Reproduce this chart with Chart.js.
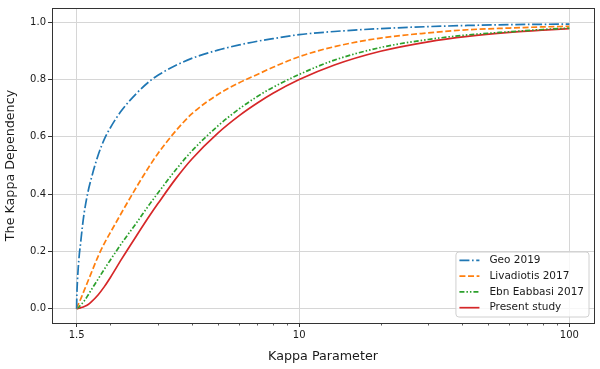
<!DOCTYPE html>
<html>
<head>
<meta charset="utf-8">
<script src="https://cdn.jsdelivr.net/npm/chart.js@4.4.1/dist/chart.umd.min.js"></script>
<style>
  html, body { margin: 0; padding: 0; background: #ffffff; }
</style>
</head>
<body>
<canvas id="grafico" width="600" height="369"></canvas>
<script>
// Valores de kappa (eixo x, escala log)
const kappa = [1.5, 1.502, 1.505, 1.51, 1.52, 1.535, 1.55, 1.575, 1.6, 1.65, 1.7, 1.8, 1.9, 2.0,
  2.2, 2.5, 2.8, 3.0, 3.5, 4, 5, 6, 7, 8, 10, 13.5, 20, 30, 42, 60, 80, 100];

// Curvas
const geo2019 = [0, 0.04, 0.065, 0.095, 0.14, 0.19, 0.225, 0.285, 0.335, 0.405, 0.455, 0.535, 0.592, 0.632,
  0.692, 0.752, 0.795, 0.815, 0.850, 0.874, 0.903, 0.921, 0.934, 0.943, 0.957, 0.968, 0.978, 0.985, 0.989, 0.992, 0.993, 0.994];
const livadiotis2017 = [0, 0.002, 0.005, 0.008, 0.014, 0.023, 0.032, 0.048, 0.064, 0.095, 0.125, 0.182, 0.228, 0.266,
  0.335, 0.425, 0.500, 0.542, 0.622, 0.680, 0.748, 0.789, 0.818, 0.843, 0.880, 0.915, 0.945, 0.963, 0.974, 0.980, 0.984, 0.986];
const ebnEabbasi2017 = [0, 0.0005, 0.001, 0.002, 0.004, 0.007, 0.012, 0.019, 0.027, 0.046, 0.066, 0.103, 0.138, 0.170,
  0.228, 0.300, 0.366, 0.404, 0.486, 0.550, 0.638, 0.698, 0.741, 0.773, 0.818, 0.868, 0.912, 0.940, 0.956, 0.967, 0.975, 0.980];
const presentStudy = [0, 0, 0.0001, 0.0003, 0.0008, 0.0017, 0.0026, 0.0048, 0.0075, 0.014, 0.024, 0.048, 0.077, 0.109,
  0.173, 0.255, 0.326, 0.367, 0.455, 0.522, 0.613, 0.674, 0.718, 0.752, 0.800, 0.851, 0.899, 0.932, 0.951, 0.965, 0.973, 0.978];

// Ticks
const xMajorTicks = [1.5, 10, 100];
const xMinorTicks = [2, 3, 4, 5, 6, 7, 8, 9, 20, 30, 40, 50, 60, 70, 80, 90];
const yTicks = [0, 0.2, 0.4, 0.6, 0.8, 1.0];

// Legenda e estilos
const rotulos = ["Geo 2019", "Livadiotis 2017", "Ebn Eabbasi 2017", "Present study"];
const cores = ["#1f77b4", "#ff7f0e", "#2ca02c", "#d62728"];
const tracos = [[10, 2.6, 1.6, 2.6], [6, 2.6], [5, 2, 1.5, 2, 1.5, 2], []];
const series = [geo2019, livadiotis2017, ebnEabbasi2017, presentStudy];

const fonte = "DejaVu Sans";
const corGrade = "#d6d6d6";
const corEixo = "#333333";

/* Moldura, ticks menores e legenda no canto inferior direito */
const pluginExtras = {
    id: "extras",
    afterDraw(chart) {
        const ctx = chart.ctx;
        const ca = chart.chartArea;
        const xs = chart.scales.x;
        ctx.save();

        // ticks menores do eixo x
        ctx.strokeStyle = corEixo;
        ctx.lineWidth = 0.8;
        xMinorTicks.forEach((v) => {
            const px = Math.round(xs.getPixelForValue(v)) + 0.5;
            ctx.beginPath();
            ctx.moveTo(px, ca.bottom);
            ctx.lineTo(px, ca.bottom + 2.5);
            ctx.stroke();
        });

        // moldura
        ctx.lineWidth = 1;
        ctx.strokeRect(Math.round(ca.left) + 0.5, Math.round(ca.top) + 0.5,
            Math.round(ca.right - ca.left), Math.round(ca.bottom - ca.top));

        // legenda
        ctx.font = "10.5px '" + fonte + "'";
        const larguraTexto = Math.max(...rotulos.map((r) => ctx.measureText(r).width));
        const alturaLinha = 15.8;
        const largura = 3.5 + 20 + 10 + larguraTexto + 5;
        const altura = 65;
        const direita = ca.right - 5;
        const baixo = ca.bottom - 6;
        const esq = direita - largura;
        const topo = baixo - altura;

        ctx.beginPath();
        ctx.roundRect(esq, topo, largura, altura, 3);
        ctx.fillStyle = "rgba(255,255,255,0.8)";
        ctx.fill();
        ctx.strokeStyle = "#d0d0d0";
        ctx.lineWidth = 1;
        ctx.stroke();

        rotulos.forEach((r, i) => {
            const y = topo + 8.3 + i * alturaLinha;
            ctx.beginPath();
            ctx.setLineDash(tracos[i]);
            ctx.strokeStyle = cores[i];
            ctx.lineWidth = 1.7;
            ctx.moveTo(esq + 3.5, y);
            ctx.lineTo(esq + 23.5, y);
            ctx.stroke();
            ctx.setLineDash([]);
            ctx.fillStyle = "#1a1a1a";
            ctx.textBaseline = "middle";
            ctx.textAlign = "left";
            ctx.fillText(r, esq + 33.5, y);
        });
        ctx.restore();
    },
};

const datasets = series.map((valores, i) => ({
    label: rotulos[i],
    data: kappa.map((k, j) => ({ x: k, y: valores[j] })),
    borderColor: cores[i],
    backgroundColor: cores[i],
    borderDash: tracos[i],
    borderWidth: 1.7,
    pointRadius: 0,
    fill: false,
    cubicInterpolationMode: "monotone",
}));

new Chart(document.getElementById("grafico").getContext("2d"), {
    type: "line",
    data: { datasets: datasets },
    plugins: [pluginExtras],
    options: {
        responsive: false,
        animation: false,
        layout: { padding: { left: 0, right: 6, top: 4, bottom: 0 } },
        plugins: {
            legend: { display: false },
            tooltip: { enabled: false },
        },
        scales: {
            x: {
                type: "logarithmic",
                min: 1.216,
                max: 123.4,
                afterBuildTicks: (scale) => {
                    scale.ticks = xMajorTicks.concat(xMinorTicks).sort((a, b) => a - b).map((v) => ({ value: v }));
                },
                afterFit: (scale) => { scale.height = 46; },
                ticks: {
                    autoSkip: false,
                    maxRotation: 0,
                    padding: 2,
                    color: "#1a1a1a",
                    font: { family: fonte, size: 10 },
                    callback: (v) => (xMajorTicks.includes(v) ? String(v) : ""),
                },
                grid: {
                    color: (c) => (c.tick && xMajorTicks.includes(c.tick.value) ? corGrade : "rgba(0,0,0,0)"),
                    tickColor: (c) => (c.tick && xMajorTicks.includes(c.tick.value) ? corEixo : "rgba(0,0,0,0)"),
                    tickLength: 4,
                    lineWidth: 1,
                },
                border: { display: false },
                title: {
                    display: true,
                    text: "Kappa Parameter",
                    color: "#1a1a1a",
                    font: { family: fonte, size: 12.7 },
                    padding: { top: 0, bottom: 5 },
                },
            },
            y: {
                type: "linear",
                min: -0.05,
                max: 1.05,
                afterBuildTicks: (scale) => {
                    scale.ticks = yTicks.map((v) => ({ value: v }));
                },
                afterFit: (scale) => { scale.width = 52; },
                ticks: {
                    padding: 2,
                    color: "#1a1a1a",
                    font: { family: fonte, size: 10 },
                    callback: (v) => Number(v).toFixed(1),
                },
                grid: {
                    color: corGrade,
                    tickColor: corEixo,
                    tickLength: 4,
                    lineWidth: 1,
                },
                border: { display: false },
                title: {
                    display: true,
                    text: "The Kappa Dependency",
                    color: "#1a1a1a",
                    font: { family: fonte, size: 12.7 },
                    padding: { top: 3, bottom: 0 },
                },
            },
        },
    },
});
</script>
</body>
</html>
